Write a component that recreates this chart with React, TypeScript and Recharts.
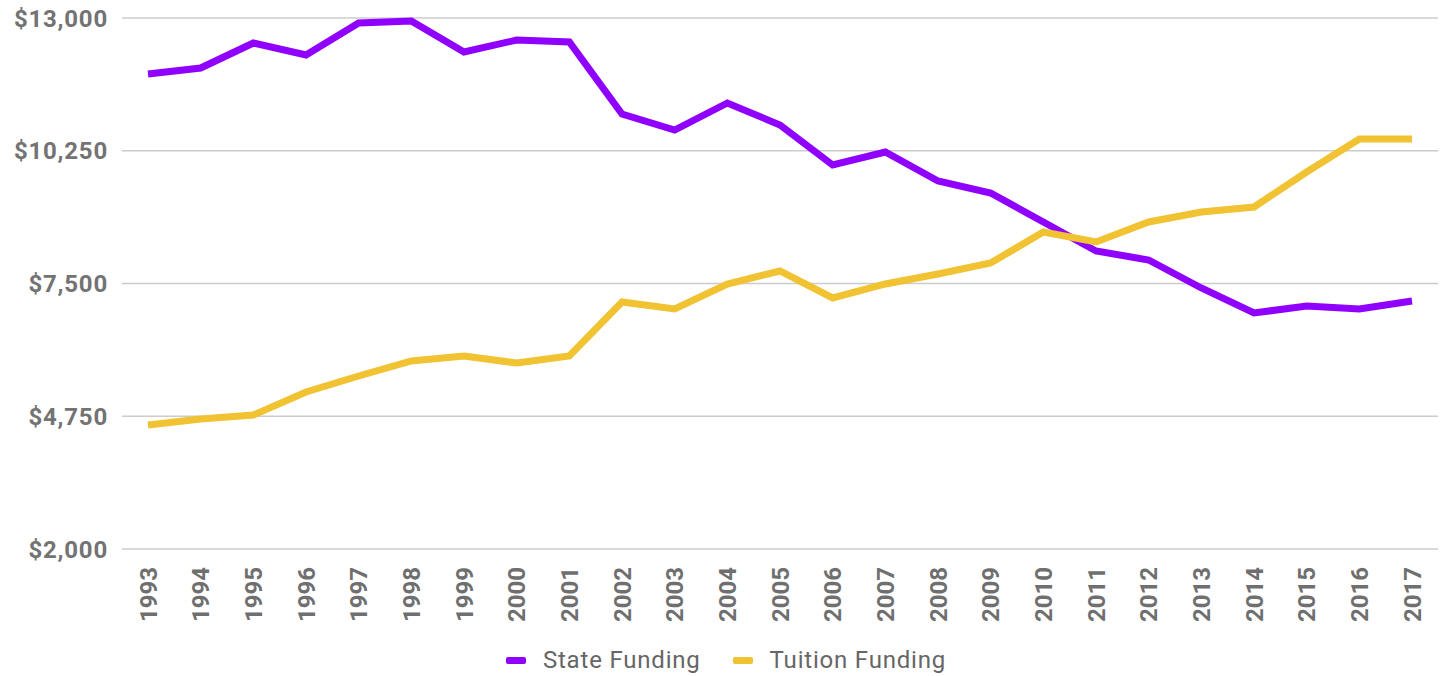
import {
  CartesianGrid,
  Legend,
  Line,
  LineChart,
  XAxis,
  YAxis,
} from "recharts";

const years = [
  "1993", "1994", "1995", "1996", "1997", "1998", "1999", "2000", "2001",
  "2002", "2003", "2004", "2005", "2006", "2007", "2008", "2009", "2010",
  "2011", "2012", "2013", "2014", "2015", "2016", "2017",
];

const stateFunding = [
  11840, 11964, 12482, 12234, 12897, 12938, 12296, 12544, 12503, 11011,
  10680, 11239, 10784, 9955, 10224, 9623, 9375, 8774, 8173, 7987, 7407,
  6889, 7034, 6972, 7138,
];

const tuitionFunding = [
  4569, 4693, 4776, 5252, 5584, 5895, 5998, 5853, 5998, 7117, 6972, 7490,
  7759, 7200, 7490, 7697, 7925, 8567, 8360, 8774, 8981, 9085, 9810, 10494,
  10494,
];

const yTicks = [2000, 4750, 7500, 10250, 13000];

const data = years.map((year, i) => ({
  year,
  state: stateFunding[i],
  tuition: tuitionFunding[i],
}));

const PURPLE = "#8f00ff";
const YELLOW = "#f1c232";
const FONT = "Roboto, 'Noto Sans', sans-serif";

function money(v: number): string {
  return `$${v.toLocaleString("en-US")}`;
}

function YearTick(props: any) {
  const { x, y, payload } = props;
  return (
    <g transform={`translate(${x},${y + 4})`}>
      <text
        transform="rotate(-90)"
        textAnchor="end"
        dy="0.36em"
        fill="#6f6f6f"
        fontSize={24}
        fontWeight={700}
        fontFamily={FONT}
      >
        {payload.value}
      </text>
    </g>
  );
}

function LegendBox() {
  const items = [
    { name: "State Funding", color: PURPLE },
    { name: "Tuition Funding", color: YELLOW },
  ];
  return (
    <div
      style={{
        height: 40,
        display: "flex",
        justifyContent: "center",
        alignItems: "center",
        paddingLeft: 14,
        transform: "translateY(4px)",
        fontFamily: FONT,
        fontSize: 24,
        letterSpacing: 0.8,
        color: "#666",
      }}
    >
      {items.map((it) => (
        <div
          key={it.name}
          style={{ display: "flex", alignItems: "center", margin: "0 16px" }}
        >
          <span
            style={{
              display: "inline-block",
              width: 20,
              height: 7,
              borderRadius: 2,
              background: it.color,
              marginRight: 17,
            }}
          />
          <span>{it.name}</span>
        </div>
      ))}
    </div>
  );
}

export default function App() {
  return (
    <div style={{ position: "absolute", left: 0, top: 0, background: "#fff" }}>
      <LineChart
        width={1447}
        height={676}
        data={data}
        margin={{ top: 18, right: 9, bottom: 0, left: 0 }}
      >
        <CartesianGrid vertical={false} stroke="#cccccc" strokeWidth={1.5} />
        <XAxis
          dataKey="year"
          interval={0}
          height={87}
          padding={{ left: 26, right: 26 }}
          axisLine={false}
          tickLine={false}
          tickSize={6}
          tickMargin={8}
          tick={<YearTick />}
        />
        <YAxis
          width={122}
          domain={[2000, 13000]}
          ticks={yTicks}
          axisLine={false}
          tickLine={false}
          tickSize={6}
          tickMargin={8}
          tickFormatter={money}
          tick={{
            fill: "#737373",
            fontSize: 24,
            fontWeight: 700,
            fontFamily: FONT,
            letterSpacing: 0.8,
          }}
        />
        <Legend verticalAlign="bottom" content={<LegendBox />} />
        <Line
          type="linear"
          dataKey="state"
          name="State Funding"
          stroke={PURPLE}
          strokeWidth={7}
          dot={false}
          isAnimationActive={false}
        />
        <Line
          type="linear"
          dataKey="tuition"
          name="Tuition Funding"
          stroke={YELLOW}
          strokeWidth={7}
          dot={false}
          isAnimationActive={false}
        />
      </LineChart>
    </div>
  );
}
